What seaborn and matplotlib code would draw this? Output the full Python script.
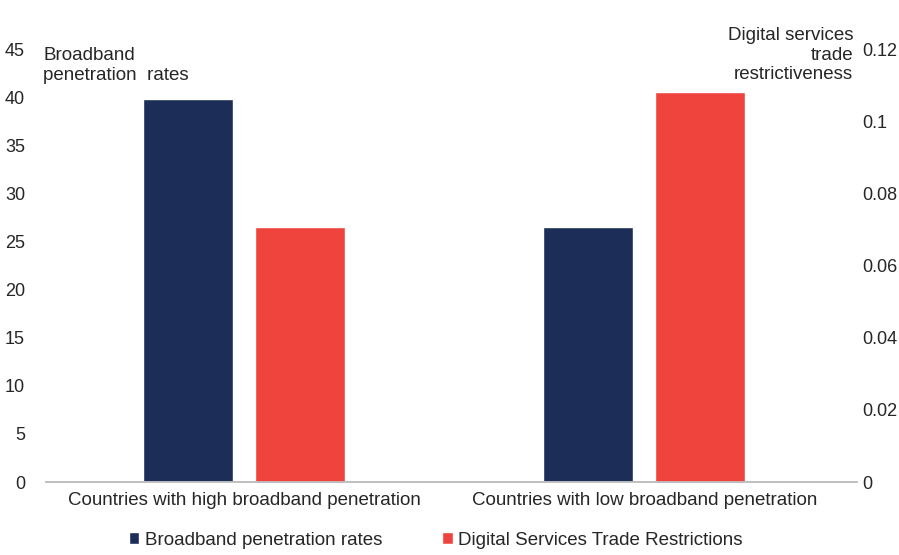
import matplotlib
matplotlib.use("Agg")
import matplotlib.pyplot as plt
import seaborn as sns
import pandas as pd
from matplotlib.patches import Patch

categories = ["Countries with high broadband penetration", "Countries with low broadband penetration"]
broadband = [39.8, 26.5]
dstr = [0.0707, 0.108]
series_names = ["Broadband penetration rates", "Digital Services Trade Restrictions"]
left_ticks = [0, 5, 10, 15, 20, 25, 30, 35, 40, 45]
right_ticks = [0, 0.02, 0.04, 0.06, 0.08, 0.1, 0.12]
right_labels = ["0", "0.02", "0.04", "0.06", "0.08", "0.1", "0.12"]

navy = "#1c2e58"
red = "#ef443d"
txt = "#262626"

sns.set_theme(style="white")
plt.rcParams["font.family"] = ["Liberation Sans", "DejaVu Sans"]

fig = plt.figure(figsize=(8.99, 5.55), dpi=100)
ax = fig.add_axes([0.051, 0.1315, 0.902, 0.7802])
ax2 = ax.twinx()

df1 = pd.DataFrame({"cat": categories, "series": series_names[0], "val": broadband})
df2 = pd.DataFrame({"cat": categories, "series": series_names[1], "val": dstr})
pal = {series_names[0]: navy, series_names[1]: red}

sns.barplot(data=df1, x="cat", y="val", hue="series", hue_order=series_names,
            order=categories, palette=pal, width=0.56, gap=0.196, dodge=True, ax=ax,
            legend=False, saturation=1)
sns.barplot(data=df2, x="cat", y="val", hue="series", hue_order=series_names,
            order=categories, palette=pal, width=0.56, gap=0.196, dodge=True, ax=ax2,
            legend=False, saturation=1)

ax.set_ylim(0, 45)
ax2.set_ylim(0, 0.12)
ax.set_xlim(-0.496, 1.531)
ax.set_yticks(left_ticks)
ax.set_yticklabels([str(t) for t in left_ticks])
ax2.set_yticks(right_ticks)
ax2.set_yticklabels(right_labels)
ax.set_xlabel("")
ax.set_ylabel("")
ax2.set_ylabel("")

for a in (ax, ax2):
    for s in ["top", "left", "right"]:
        a.spines[s].set_visible(False)
    a.spines["bottom"].set_color("#bfbfbf")
    a.spines["bottom"].set_linewidth(1.2)
    a.tick_params(axis="both", length=0, labelsize=13, colors=txt)
    a.grid(False)

ax.tick_params(axis="x", labelsize=13.5, pad=7)
ax.tick_params(axis="y", pad=15)
ax2.tick_params(axis="y", pad=4)

fig.text(0.048, 0.916, "Broadband\npenetration  rates", ha="left", va="top",
         fontsize=13.5, color=txt, linespacing=1.25)
fig.text(0.949, 0.951, "Digital services\ntrade\nrestrictiveness", ha="right", va="top",
         fontsize=13.5, color=txt, linespacing=1.2)

handles = [Patch(facecolor=navy, label=series_names[0]),
           Patch(facecolor=red, label=series_names[1])]
fig.legend(handles=handles, loc="center", bbox_to_anchor=(0.485, 0.027), ncol=2,
           frameon=False, fontsize=13.5, handlelength=0.55, handleheight=0.55,
           handletextpad=0.3, columnspacing=3.2, labelcolor=txt)

fig.savefig("out.png", dpi=100)
